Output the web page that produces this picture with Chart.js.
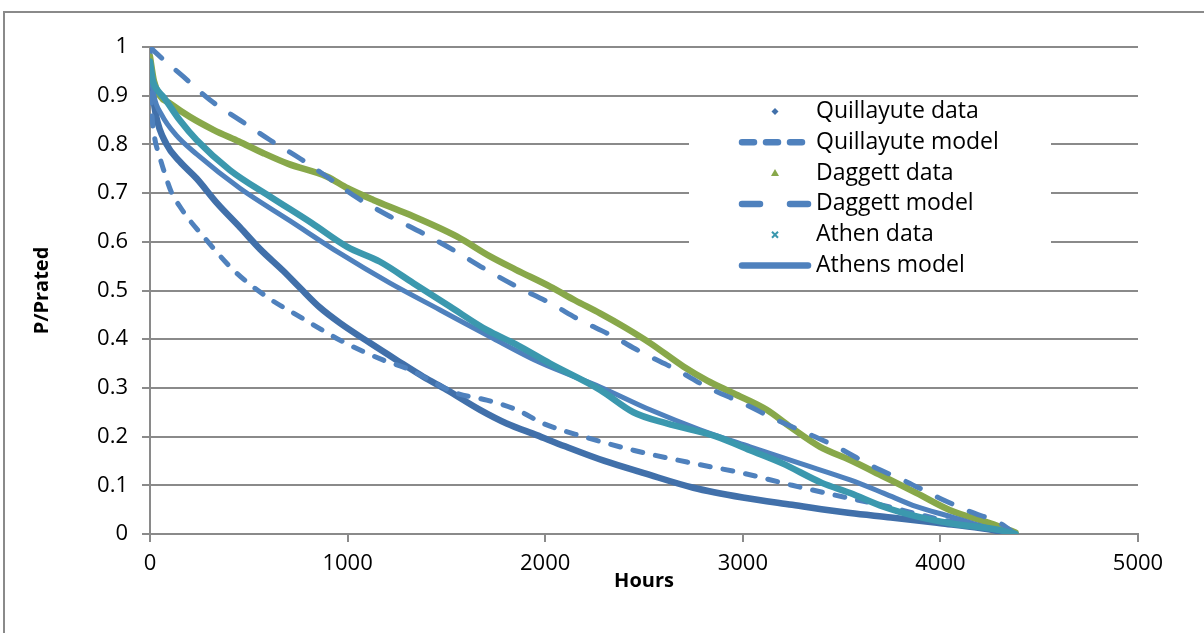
<!DOCTYPE html>
<html>
<head>
<meta charset="utf-8">
<script src="https://cdn.jsdelivr.net/npm/chart.js@4.4.1/dist/chart.umd.min.js"></script>
<style>
  html, body { margin: 0; padding: 0; background: #ffffff; }
  #wrap { width: 1204px; height: 633px; }
</style>
</head>
<body>
<div id="wrap"><canvas id="c" width="1204" height="633"></canvas></div>
<script>
// ---------- data ----------
const seriesLabels = ["Quillayute data", "Quillayute model", "Daggett data", "Daggett model", "Athen data", "Athens model"];

const quillayuteDataHours = [0, 10, 30, 84, 150, 236, 338, 455, 557, 675, 760, 860, 962, 1114, 1249, 1383, 1502, 1670, 1805, 1957, 2100, 2300, 2500, 2750, 3000, 3250, 3543, 3750, 4000, 4200, 4380];
const quillayuteDataValues = [0.97, 0.92, 0.86, 0.80, 0.765, 0.73, 0.68, 0.63, 0.585, 0.54, 0.505, 0.465, 0.433, 0.392, 0.357, 0.323, 0.296, 0.255, 0.227, 0.203, 0.18, 0.15, 0.125, 0.095, 0.075, 0.06, 0.043, 0.034, 0.022, 0.012, 0.0];

const quillayuteModelHours = [0, 3, 10, 25, 45, 67, 110, 152, 186, 270, 422, 591, 759, 962, 1181, 1299, 1552, 1704, 1856, 1990, 2193, 2446, 2750, 3000, 3250, 3577, 3695, 4000, 4250, 4380];
const quillayuteModelValues = [1.0, 0.93, 0.86, 0.81, 0.78, 0.75, 0.70, 0.672, 0.652, 0.611, 0.542, 0.487, 0.446, 0.398, 0.357, 0.34, 0.289, 0.275, 0.255, 0.227, 0.2, 0.172, 0.145, 0.125, 0.1, 0.07, 0.06, 0.03, 0.012, 0.0];

const daggettDataHours = [0, 20, 50, 101, 200, 321, 450, 574, 700, 894, 1000, 1130, 1299, 1552, 1721, 1850, 2025, 2150, 2278, 2400, 2531, 2699, 2820, 2952, 3121, 3240, 3391, 3543, 3712, 3880, 4049, 4252, 4380];
const daggettDataValues = [0.98, 0.93, 0.90, 0.884, 0.857, 0.83, 0.806, 0.782, 0.76, 0.734, 0.71, 0.686, 0.658, 0.611, 0.57, 0.543, 0.508, 0.48, 0.453, 0.425, 0.392, 0.344, 0.315, 0.289, 0.255, 0.22, 0.179, 0.152, 0.118, 0.084, 0.049, 0.022, 0.003];

const daggettModelHours = [0, 25, 169, 304, 455, 607, 759, 894, 1050, 1215, 1383, 1535, 1704, 1856, 2025, 2177, 2328, 2497, 2666, 2818, 3003, 3172, 3324, 3475, 3661, 3830, 3999, 4150, 4302, 4380];
const daggettModelValues = [1.0, 0.99, 0.939, 0.891, 0.85, 0.809, 0.771, 0.734, 0.69, 0.652, 0.617, 0.583, 0.542, 0.508, 0.474, 0.439, 0.409, 0.371, 0.337, 0.302, 0.268, 0.234, 0.207, 0.179, 0.138, 0.107, 0.073, 0.046, 0.022, 0.0];

const athensDataHours = [0, 15, 40, 67, 150, 236, 405, 607, 820, 996, 1164, 1333, 1518, 1704, 1850, 2025, 2278, 2446, 2615, 2868, 3037, 3200, 3400, 3543, 3712, 3880, 4049, 4302, 4380];
const athensDataValues = [0.97, 0.93, 0.91, 0.898, 0.85, 0.809, 0.747, 0.693, 0.638, 0.59, 0.559, 0.515, 0.467, 0.419, 0.39, 0.35, 0.296, 0.25, 0.227, 0.2, 0.172, 0.145, 0.105, 0.084, 0.056, 0.036, 0.022, 0.008, 0.0];

const athensModelHours = [0, 20, 60, 130, 236, 455, 709, 962, 1215, 1468, 1721, 1974, 2278, 2531, 2784, 3037, 3290, 3543, 3712, 3880, 4049, 4218, 4380];
const athensModelValues = [0.96, 0.90, 0.86, 0.82, 0.78, 0.71, 0.643, 0.576, 0.515, 0.46, 0.405, 0.352, 0.302, 0.255, 0.214, 0.179, 0.145, 0.111, 0.084, 0.056, 0.036, 0.015, 0.0];

const xTickLabels = ["0", "1000", "2000", "3000", "4000", "5000"];
const yTickLabels = ["0", "0.1", "0.2", "0.3", "0.4", "0.5", "0.6", "0.7", "0.8", "0.9", "1"];

// ---------- helpers ----------
function pts(hs, vs) { return hs.map((h, i) => ({ x: h, y: vs[i] })); }

const C_QDATA = "#4170AA";
const C_MODEL = "#4F81BD";
const C_DDATA = "#88A84A";
const C_ADATA = "#3B98AE";
const FONT = "'Open Sans', 'Noto Sans', sans-serif";

Chart.defaults.font.family = FONT;
Chart.defaults.color = "#000000";

const legendSpec = [
  { kind: "diamond", color: C_QDATA },
  { kind: "dash", color: C_MODEL, dash: [12, 12] },
  { kind: "triangle", color: C_DDATA },
  { kind: "dash", color: C_MODEL, dash: [18, 30] },
  { kind: "cross", color: C_ADATA },
  { kind: "solid", color: C_MODEL }
];

const borderPlugin = {
  id: "outerBorder",
  beforeDraw(chart) {
    const ctx = chart.ctx;
    ctx.save();
    ctx.fillStyle = "#ffffff";
    ctx.fillRect(0, 0, chart.width, chart.height);
    ctx.strokeStyle = "#8a8a8a";
    ctx.lineWidth = 2;
    ctx.strokeRect(4, 12, chart.width + 20, chart.height + 20);
    ctx.restore();
  }
};

const legendPlugin = {
  id: "boxLegend",
  afterDatasetsDraw(chart) {
    const ctx = chart.ctx;
    const bx = 689, by = 99, bw = 362, bh = 184;
    ctx.save();
    ctx.fillStyle = "#ffffff";
    ctx.fillRect(bx, by, bw, bh);
    const rowY0 = 111.5, step = 30.8;
    const sx0 = 739, sx1 = 810, mx = 775;
    seriesLabels.forEach((label, i) => {
      const y = rowY0 + i * step;
      const s = legendSpec[i];
      ctx.save();
      if (s.kind === "dash" || s.kind === "solid") {
        ctx.strokeStyle = s.color;
        ctx.lineWidth = 6.5;
        ctx.lineCap = "round";
        ctx.setLineDash(s.kind === "dash" ? s.dash : []);
        ctx.beginPath();
        ctx.moveTo(sx0 + 3, y);
        ctx.lineTo(sx1 - 2, y);
        ctx.stroke();
      } else if (s.kind === "diamond") {
        ctx.fillStyle = s.color;
        ctx.beginPath();
        ctx.moveTo(mx, y - 3.5); ctx.lineTo(mx + 3.5, y); ctx.lineTo(mx, y + 3.5); ctx.lineTo(mx - 3.5, y);
        ctx.closePath(); ctx.fill();
      } else if (s.kind === "triangle") {
        ctx.fillStyle = s.color;
        ctx.beginPath();
        ctx.moveTo(mx, y - 4); ctx.lineTo(mx + 4, y + 3); ctx.lineTo(mx - 4, y + 3);
        ctx.closePath(); ctx.fill();
      } else if (s.kind === "cross") {
        ctx.strokeStyle = s.color;
        ctx.lineWidth = 2;
        ctx.beginPath();
        ctx.moveTo(mx - 3, y - 3); ctx.lineTo(mx + 3, y + 3);
        ctx.moveTo(mx + 3, y - 3); ctx.lineTo(mx - 3, y + 3);
        ctx.stroke();
      }
      ctx.restore();
      ctx.fillStyle = "#000000";
      ctx.font = "23px " + FONT;
      ctx.textBaseline = "middle";
      ctx.textAlign = "left";
      ctx.fillText(label, 816, y);
    });
    ctx.restore();
  }
};

const dataLine = (label, data, color, order) => ({
  label, data, borderColor: color, backgroundColor: color,
  borderWidth: 6.5, pointRadius: 0, showLine: true, tension: 0,
  cubicInterpolationMode: "monotone", borderCapStyle: "round", borderJoinStyle: "round", order
});
const modelLine = (label, data, dash, order) => ({
  label, data, borderColor: C_MODEL, backgroundColor: C_MODEL,
  borderWidth: 5, pointRadius: 0, showLine: true,
  cubicInterpolationMode: "monotone", borderDash: dash, borderCapStyle: "round", borderJoinStyle: "round", order
});

new Chart(document.getElementById("c"), {
  type: "scatter",
  data: {
    datasets: [
      dataLine(seriesLabels[0], pts(quillayuteDataHours, quillayuteDataValues), C_QDATA, 6),
      modelLine(seriesLabels[1], pts(quillayuteModelHours, quillayuteModelValues), [10, 13], 5),
      dataLine(seriesLabels[2], pts(daggettDataHours, daggettDataValues), C_DDATA, 4),
      modelLine(seriesLabels[3], pts(daggettModelHours, daggettModelValues), [16, 19], 3),
      dataLine(seriesLabels[4], pts(athensDataHours, athensDataValues), C_ADATA, 1),
      modelLine(seriesLabels[5], pts(athensModelHours, athensModelValues), [], 2)
    ]
  },
  options: {
    responsive: false,
    animation: false,
    devicePixelRatio: 1,
    layout: { padding: { left: 0, right: 66, top: 47, bottom: 0 }, autoPadding: false },
    plugins: { legend: { display: false }, tooltip: { enabled: false } },
    scales: {
      x: {
        type: "linear", min: 0, max: 5000,
        afterFit(s) { s.height = 99; },
        afterBuildTicks(s) { s.ticks = xTickLabels.map((t, i) => ({ value: i * 1000 })); },
        ticks: { padding: 9, font: { size: 22 }, color: "#000", callback: (v, i) => xTickLabels[i] },
        grid: { drawOnChartArea: false, drawTicks: true, tickLength: 8, color: "#8a8a8a", lineWidth: 2 },
        border: { display: true, color: "#8a8a8a", width: 2 },
        title: { display: true, text: "Hours", font: { size: 20, weight: "bold" }, color: "#000", padding: { top: 0, bottom: 40 } }
      },
      y: {
        type: "linear", min: 0, max: 1,
        afterFit(s) { s.width = 150; },
        afterBuildTicks(s) { s.ticks = yTickLabels.map((t, i) => ({ value: i / 10 })); },
        ticks: { padding: 14, font: { size: 22 }, color: "#000", callback: (v, i) => yTickLabels[i] },
        grid: { drawOnChartArea: true, drawTicks: true, tickLength: 8, color: "#8a8a8a", lineWidth: 2 },
        border: { display: true, color: "#8a8a8a", width: 2 },
        title: { display: true, text: "P/Prated", font: { size: 20, weight: "bold" }, color: "#000", padding: { top: 30, bottom: 0 } }
      }
    }
  },
  plugins: [borderPlugin, legendPlugin]
});
</script>
</body>
</html>
